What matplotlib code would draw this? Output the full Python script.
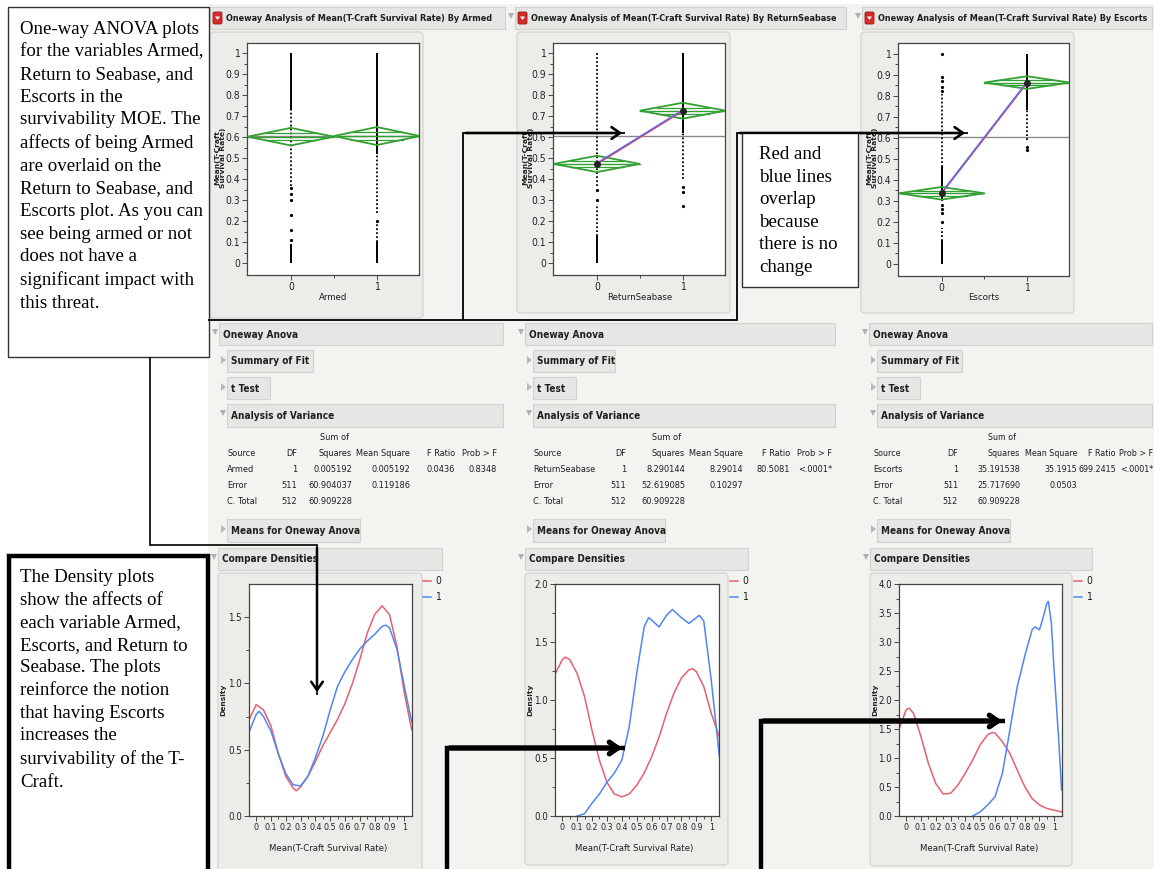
import matplotlib
matplotlib.use("Agg")
import matplotlib.pyplot as plt
from matplotlib.patches import Rectangle, FancyBboxPatch, Polygon, FancyArrowPatch
import numpy as np

W, H = 1154, 869
NARROW = ["Liberation Sans Narrow", "DejaVu Sans Condensed", "DejaVu Sans"]
SERIF = ["Liberation Serif", "DejaVu Serif"]

# ---------------- data ----------------
GROUP_X = [0, 1]
GRAND_MEAN = 0.605

ARMED_MEANS = [0.603, 0.606]
ARMED_CI = [0.042, 0.043]
RETURN_MEANS = [0.473, 0.727]
RETURN_CI = [0.039, 0.038]
ESCORTS_MEANS = [0.336, 0.862]
ESCORTS_CI = [0.030, 0.030]

# point strips per group: solid runs, dotted runs, single points
ARMED_SOLID = [[(0.73, 1.0), (0.0, 0.09)], [(0.52, 1.0), (0.0, 0.10)]]
ARMED_DOTTED = [[(0.37, 0.73)], [(0.24, 0.52), (0.10, 0.20)]]
ARMED_POINTS = [[0.11, 0.16, 0.23, 0.30, 0.33, 0.36], [0.20]]
RETURN_SOLID = [[(0.0, 0.13)], [(0.62, 1.0)]]
RETURN_DOTTED = [[(0.37, 1.0), (0.13, 0.28)], [(0.40, 0.62)]]
RETURN_POINTS = [[0.30, 0.35], [0.27, 0.34, 0.365]]
ESCORTS_SOLID = [[(0.30, 0.46), (0.0, 0.11)], [(0.73, 1.0)]]
ESCORTS_DOTTED = [[(0.46, 0.81), (0.11, 0.17)], [(0.59, 0.73)]]
ESCORTS_POINTS = [[1.0, 0.89, 0.87, 0.84, 0.82, 0.28, 0.26, 0.24, 0.20], [0.54, 0.555]]

Y_TICKS = [0, 0.1, 0.2, 0.3, 0.4, 0.5, 0.6, 0.7, 0.8, 0.9, 1.0]
Y_TICK_LABELS = ["0", "0.1", "0.2", "0.3", "0.4", "0.5", "0.6", "0.7", "0.8", "0.9", "1"]

# density curves (group 0 red, group 1 blue)
ARMED_X0 = [-0.045, 0.0, 0.05, 0.1, 0.15, 0.2, 0.25, 0.27, 0.3, 0.35, 0.4, 0.45, 0.5, 0.55, 0.6,
            0.65, 0.7, 0.75, 0.8, 0.85, 0.9, 0.95, 1.0, 1.05]
ARMED_D0 = [0.73, 0.84, 0.80, 0.68, 0.47, 0.30, 0.21, 0.19, 0.22, 0.30, 0.41, 0.53, 0.63, 0.73, 0.85,
            1.0, 1.18, 1.38, 1.52, 1.585, 1.52, 1.28, 0.93, 0.65]
ARMED_X1 = [-0.045, 0.0, 0.02, 0.05, 0.1, 0.15, 0.2, 0.25, 0.3, 0.35, 0.4, 0.45, 0.5, 0.55, 0.6,
            0.65, 0.7, 0.75, 0.8, 0.85, 0.875, 0.9, 0.95, 1.0, 1.05]
ARMED_D1 = [0.64, 0.765, 0.79, 0.75, 0.64, 0.47, 0.32, 0.235, 0.227, 0.30, 0.44, 0.60, 0.80, 0.98, 1.09,
            1.18, 1.26, 1.32, 1.37, 1.43, 1.44, 1.42, 1.26, 0.98, 0.71]

RETURN_X0 = [-0.05, 0.0, 0.02, 0.05, 0.1, 0.15, 0.2, 0.25, 0.3, 0.35, 0.4, 0.45, 0.5, 0.55, 0.6,
             0.65, 0.7, 0.75, 0.8, 0.85, 0.875, 0.9, 0.95, 1.0, 1.055]
RETURN_D0 = [1.216, 1.346, 1.37, 1.35, 1.23, 1.03, 0.74, 0.48, 0.29, 0.19, 0.165, 0.19, 0.265, 0.37, 0.51,
             0.68, 0.885, 1.06, 1.19, 1.26, 1.27, 1.245, 1.115, 0.885, 0.68]
RETURN_X1 = [0.1, 0.15, 0.2, 0.25, 0.3, 0.35, 0.4, 0.45, 0.5, 0.55, 0.58, 0.6, 0.65, 0.7, 0.74,
             0.8, 0.85, 0.9, 0.92, 0.95, 1.0, 1.055]
RETURN_D1 = [0.0, 0.02, 0.11, 0.19, 0.29, 0.37, 0.48, 0.77, 1.23, 1.63, 1.71, 1.69, 1.63, 1.73, 1.78,
             1.71, 1.66, 1.71, 1.73, 1.68, 1.17, 0.51]

ESCORTS_X0 = [-0.05, 0.0, 0.02, 0.05, 0.1, 0.15, 0.2, 0.25, 0.3, 0.35, 0.4, 0.45, 0.5, 0.55, 0.58,
              0.6, 0.65, 0.7, 0.75, 0.8, 0.85, 0.9, 0.95, 1.0, 1.05]
ESCORTS_D0 = [1.48, 1.83, 1.86, 1.77, 1.37, 0.91, 0.56, 0.38, 0.39, 0.535, 0.74, 0.97, 1.23, 1.40, 1.44,
              1.43, 1.28, 1.08, 0.79, 0.51, 0.30, 0.19, 0.13, 0.10, 0.07]
ESCORTS_X1 = [0.45, 0.5, 0.55, 0.6, 0.65, 0.7, 0.75, 0.8, 0.85, 0.87, 0.9, 0.92, 0.95, 0.96, 0.98,
              1.0, 1.03, 1.049]
ESCORTS_D1 = [0.0, 0.07, 0.19, 0.33, 0.74, 1.48, 2.23, 2.75, 3.21, 3.26, 3.21, 3.38, 3.67, 3.70, 3.33,
              2.46, 1.31, 0.45]

D_TICKS = [0, 0.1, 0.2, 0.3, 0.4, 0.5, 0.6, 0.7, 0.8, 0.9, 1.0]
D_TICK_LABELS = ["0", "0.1", "0.2", "0.3", "0.4", "0.5", "0.6", "0.7", "0.8", "0.9", "1"]

ANOVA_HEAD = ["Source", "DF", "Squares", "Mean Square", "F Ratio", "Prob > F"]
ARMED_ROWS = [["Armed", "1", "0.005192", "0.005192", "0.0436", "0.8348"],
              ["Error", "511", "60.904037", "0.119186", "", ""],
              ["C. Total", "512", "60.909228", "", "", ""]]
RETURN_ROWS = [["ReturnSeabase", "1", "8.290144", "8.29014", "80.5081", "<.0001*"],
               ["Error", "511", "52.619085", "0.10297", "", ""],
               ["C. Total", "512", "60.909228", "", "", ""]]
ESCORTS_ROWS = [["Escorts", "1", "35.191538", "35.1915", "699.2415", "<.0001*"],
                ["Error", "511", "25.717690", "0.0503", "", ""],
                ["C. Total", "512", "60.909228", "", "", ""]]

BOX1_TEXT = ("One-way ANOVA plots\nfor the variables Armed,\nReturn to Seabase, and\nEscorts in the\n"
             "survivability MOE. The\naffects of being Armed\nare overlaid on the\nReturn to Seabase, and\n"
             "Escorts plot. As you can\nsee being armed or not\ndoes not have a\nsignificant impact with\n"
             "this threat.")
BOX2_TEXT = ("The Density plots\nshow the affects of\neach variable Armed,\nEscorts, and Return to\n"
             "Seabase. The plots\nreinforce the notion\nthat having Escorts\nincreases the\n"
             "survivability of the T-\nCraft.")
BOX3_TEXT = "Red and\nblue lines\noverlap\nbecause\nthere is no\nchange"

JMP_BG = "#f3f3ef"
BAR_BG = "#e6e6e4"
BAR_EDGE = "#d2d2cf"
PANEL_BG = "#ecece8"
PANEL_EDGE = "#d6d6d2"
GREEN = "#33a033"
RED = "#e8606e"
BLUE = "#4f86f0"

fig = plt.figure(figsize=(W / 100, H / 100), dpi=100, facecolor="white")


def pix_axes(x0, y0, x1, y1, z):
    return fig.add_axes([x0 / W, 1 - y1 / H, (x1 - x0) / W, (y1 - y0) / H], zorder=z)


def ntext(ax, x, y, s, size, bold=False, **kw):
    kw.setdefault("color", "#1e1e1e")
    kw.setdefault("va", "center")
    return ax.text(x, y, s, family=NARROW, fontstretch="condensed", fontsize=size,
                   fontweight="bold" if bold else "normal", **kw)


bg = pix_axes(0, 0, W, H, 0)
bg.set_xlim(0, W)
bg.set_ylim(H, 0)
bg.axis("off")
top = pix_axes(0, 0, W, H, 10)
top.set_xlim(0, W)
top.set_ylim(H, 0)
top.axis("off")

bg.add_patch(Rectangle((208, 4), W - 208, H - 4, facecolor=JMP_BG, edgecolor="none"))


def bar(x0, x1, y0, y1, label, tri=None, icon=False, size=7.2):
    bg.add_patch(Rectangle((x0, y0), x1 - x0, y1 - y0, facecolor=BAR_BG, edgecolor=BAR_EDGE, lw=0.8))
    tx = x0 + 4
    if icon:
        bg.add_patch(FancyBboxPatch((x0 + 3, y0 + 5), 9, 12, boxstyle="round,pad=0,rounding_size=1.5",
                                    facecolor="#d42a2a", edgecolor="#a01818", lw=0.6))
        bg.add_patch(Polygon([(x0 + 5, y0 + 9.5), (x0 + 10, y0 + 9.5), (x0 + 7.5, y0 + 13)],
                             facecolor="white", edgecolor="none"))
        tx = x0 + 16
    if tri == "down":
        bg.add_patch(Polygon([(x0 - 7, y0 + 6), (x0 - 1, y0 + 6), (x0 - 4, y0 + 12)],
                             facecolor="#b0b0b0", edgecolor="none"))
    elif tri == "right":
        bg.add_patch(Polygon([(x0 - 6, y0 + 6), (x0 - 6, y0 + 14), (x0 - 1, y0 + 10)],
                             facecolor="#b8b8b8", edgecolor="none"))
    ntext(bg, tx, (y0 + y1) / 2 + 0.5, label, size, bold=True, ha="left")


def panel(x0, x1, y0, y1):
    bg.add_patch(FancyBboxPatch((x0, y0), x1 - x0, y1 - y0, boxstyle="round,pad=0,rounding_size=4",
                                facecolor=PANEL_BG, edgecolor=PANEL_EDGE, lw=1.0))


def style_axes(ax, xsize=7, ysize=7):
    for sp in ax.spines.values():
        sp.set_color("#444444")
        sp.set_linewidth(0.9)
    ax.tick_params(which="both", direction="out", color="#444444", width=0.7)
    ax.tick_params(which="major", length=3.5, pad=1.5)
    ax.tick_params(which="minor", length=2)
    ax.tick_params(axis="x", labelsize=xsize)
    ax.tick_params(axis="y", labelsize=ysize)
    for lab in ax.get_xticklabels() + ax.get_yticklabels():
        lab.set_family(NARROW)
        lab.set_fontstretch("condensed")
        lab.set_color("#222222")


def oneway(box, means, ci, solid, dotted, points, connect):
    ax = pix_axes(*box, 2)
    ax.set_xlim(-0.51, 1.49)
    ax.set_ylim(-0.057, 1.05)
    ax.axhline(GRAND_MEAN, color="#8a8a8a", lw=1.0, zorder=1)
    for g in GROUP_X:
        for a, b in solid[g]:
            ax.vlines(g, a, b, color="black", lw=1.4, zorder=2)
        for a, b in dotted[g]:
            ax.vlines(g, a, b, color="black", lw=1.3, linestyles=(0, (1.0, 1.2)), zorder=2)
        ax.plot([g] * len(points[g]), points[g], "o", ms=1.3, color="black", zorder=2)
        m, c = means[g], ci[g]
        ax.add_patch(Polygon([(g - 0.5, m), (g, m + c), (g + 0.5, m), (g, m - c)], closed=True,
                             facecolor="none", edgecolor=GREEN, lw=1.3, zorder=3))
        ax.plot([g - 0.5, g + 0.5], [m, m], color=GREEN, lw=1.0, zorder=3)
        for s in (1, -1):
            ax.plot([g - 0.3, g + 0.3], [m + s * 0.4 * c] * 2, color=GREEN, lw=0.9, zorder=3)
    if connect:
        ax.plot(GROUP_X, means, color="#e04050", lw=1.3, zorder=4)
        ax.plot(GROUP_X, [means[0] + 0.004, means[1] + 0.004], color="#5a6ef0", lw=1.0, zorder=4)
        ax.plot(GROUP_X, means, "o", ms=4, color="#222222", zorder=5)
    ax.set_yticks(Y_TICKS)
    ax.set_yticklabels(Y_TICK_LABELS)
    ax.set_yticks(np.arange(0.05, 1.0, 0.1), minor=True)
    ax.set_xticks(GROUP_X)
    ax.set_xticklabels([str(g) for g in GROUP_X])
    ax.set_xticks([0.5], minor=True)
    style_axes(ax, 7.5, 7.5)
    return ax


def density(box, ymax, yticks, curves):
    ax = pix_axes(*box, 2)
    ax.set_xlim(-0.048, 1.052)
    ax.set_ylim(0, ymax)
    for xs, ys, col in curves:
        ax.plot(xs, ys, color=col, lw=1.1)
    ax.set_xticks(D_TICKS)
    ax.set_xticklabels(D_TICK_LABELS)
    ax.set_xticks(np.arange(0.05, 1.05, 0.1), minor=True)
    ax.set_yticks(yticks)
    ax.set_yticklabels(["%.1f" % t for t in yticks])
    ax.set_yticks(np.arange(yticks[1] / 2, ymax, yticks[1]), minor=True)
    style_axes(ax, 6.3, 7)
    return ax


def anova_block(x0, x1, xs):
    bar(x0 - 8, x1, 323, 345, "Oneway Anova", tri="down")
    bar(x0, x0 + xs[0], 350, 372, "Summary of Fit", tri="right")
    bar(x0, x0 + xs[1], 377, 399, "t Test", tri="right")
    bar(x0, x1, 404, 427, "Analysis of Variance", tri="down")
    bar(x0, x0 + xs[2], 519, 542, "Means for Oneway Anova", tri="right")


def anova_table(cols, rows, size=6.6):
    ntext(bg, cols[2] - 18, 438, "Sum of", size, ha="center")
    ys = [454, 470, 486, 502]
    for ci, h in enumerate(ANOVA_HEAD):
        ntext(bg, cols[ci], ys[0], h, size, ha="left" if ci == 0 else "right")
    for r, row in enumerate(rows):
        for ci, v in enumerate(row):
            ntext(bg, cols[ci], ys[r + 1], v, size, ha="left" if ci == 0 else "right")


# ---------------- column headers ----------------
bar(210, 505, 7, 29, "Oneway Analysis of Mean(T-Craft Survival Rate) By Armed", icon=True, size=6.5)
bar(515, 846, 7, 29, "Oneway Analysis of Mean(T-Craft Survival Rate) By ReturnSeabase",
    tri="down", icon=True, size=6.5)
bar(862, 1152, 7, 29, "Oneway Analysis of Mean(T-Craft Survival Rate) By Escorts",
    tri="down", icon=True, size=6.5)

# oneway plot panels
for (x0, x1, y1), (cx, lab), ylx in zip([(210, 423, 318), (517, 730, 313), (861, 1074, 313)],
                                        [(333, "Armed"), (640, "ReturnSeabase"), (984, "Escorts")],
                                        [220, 528, 872]):
    panel(x0, x1, 32, y1)
    ntext(bg, cx, 298, lab, 6.8, ha="center")
    bg.text(ylx, 158, "Mean(T-Craft\nSurvival Rate)", rotation=90, fontsize=5.4, ha="center",
            va="center", color="#222222", linespacing=0.8, fontweight="bold")

oneway((247, 43, 419, 275), ARMED_MEANS, ARMED_CI, ARMED_SOLID, ARMED_DOTTED, ARMED_POINTS, False)
oneway((553, 43, 725, 275), RETURN_MEANS, RETURN_CI, RETURN_SOLID, RETURN_DOTTED, RETURN_POINTS, True)
oneway((898, 43, 1069, 276), ESCORTS_MEANS, ESCORTS_CI, ESCORTS_SOLID, ESCORTS_DOTTED, ESCORTS_POINTS, True)

# anova report sections
anova_block(227, 503, (86, 43, 133))
anova_block(533, 835, (82, 43, 132))
anova_block(877, 1152, (85, 43, 133))
anova_table([227, 297, 352, 410, 455, 497], ARMED_ROWS)
anova_table([533, 626, 685, 743, 790, 832], RETURN_ROWS)
anova_table([873, 958, 1020, 1077, 1116, 1153], ESCORTS_ROWS, 6.4)

# compare densities
for (bx0, bx1), (px0, px1, py1), lx in zip([(218, 442), (525, 748), (870, 1092)],
                                           [(218, 422, 880), (525, 728, 865), (870, 1072, 866)],
                                           [423, 730, 1074]):
    bar(bx0, bx1, 548, 570, "Compare Densities", tri="down")
    panel(px0, px1, 573, py1)
    bg.text(px0 + 5, 700, "Density", rotation=90, fontsize=5.4, ha="center", va="center",
            color="#222222", fontweight="bold")
    ntext(bg, (px0 + px1) / 2 + 8, 848, "Mean(T-Craft Survival Rate)", 6.8, ha="center")
    for yy, col, lab in [(581, RED, "0"), (597, BLUE, "1")]:
        bg.plot([lx, lx + 8], [yy, yy], color=col, lw=1.1)
        ntext(bg, lx + 12, yy, lab, 7.5, ha="left")

density((249, 584, 412, 816), 1.75, [0.0, 0.5, 1.0, 1.5],
        [(ARMED_X0, ARMED_D0, RED), (ARMED_X1, ARMED_D1, BLUE)])
density((555, 584, 719, 816), 2.0, [0.0, 0.5, 1.0, 1.5, 2.0],
        [(RETURN_X0, RETURN_D0, RED), (RETURN_X1, RETURN_D1, BLUE)])
density((899, 584, 1062, 816), 4.0, [0.0, 0.5, 1.0, 1.5, 2.0, 2.5, 3.0, 3.5, 4.0],
        [(ESCORTS_X0, ESCORTS_D0, RED), (ESCORTS_X1, ESCORTS_D1, BLUE)])


# ---------------- annotation overlay ----------------
def path(pts, lw, arrow=True):
    xs, ys = zip(*pts)
    top.plot(xs, ys, color="black", lw=lw, solid_capstyle="butt", solid_joinstyle="miter")
    if arrow:
        (x0, y0), (x1, y1) = pts[-2], pts[-1]
        top.add_patch(FancyArrowPatch((x0, y0), (x1, y1), arrowstyle="->,head_length=0.5,head_width=0.35",
                                      mutation_scale=12, lw=lw + 0.6, color="black"))


path([(208, 320), (463, 320), (463, 133), (625, 133)], 1.3)
path([(463, 320), (737, 320), (737, 133), (968, 133)], 1.3)
path([(150, 357), (150, 545), (317, 545), (317, 695)], 1.2)
path([(447, 872), (447, 748), (625, 748)], 3.2)
path([(761, 872), (761, 721), (1005, 721)], 3.2)

top.add_patch(Rectangle((8, 7), 201, 350, facecolor="white", edgecolor="#333333", lw=1.0))
top.text(20, 21, BOX1_TEXT, family=SERIF, fontsize=13.6, ha="left", va="top", linespacing=1.43)
top.add_patch(Rectangle((9, 556), 199, 320, facecolor="white", edgecolor="black", lw=3.2))
top.text(20, 569, BOX2_TEXT, family=SERIF, fontsize=13.6, ha="left", va="top", linespacing=1.43)
top.add_patch(Rectangle((742, 133), 116, 154, facecolor="white", edgecolor="#333333", lw=1.0))
top.text(759, 146, BOX3_TEXT, family=SERIF, fontsize=13.6, ha="left", va="top", linespacing=1.43)

fig.savefig("out.png", dpi=100, facecolor="white")
